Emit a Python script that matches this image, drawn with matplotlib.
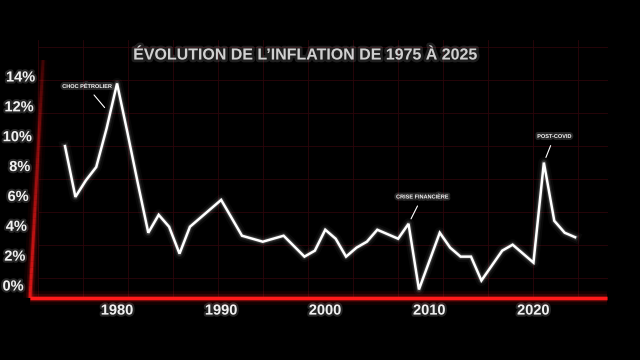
import numpy as np
import matplotlib.pyplot as plt
import matplotlib.patheffects as pe
from matplotlib.collections import LineCollection

# yearly inflation (%)
years = list(range(1975, 2025))
inflation = [9.3, 5.9, 7.0, 7.9, 10.5, 13.5, 10.2, 6.8, 3.5, 4.7,
             3.9, 2.1, 3.9, 4.5, 5.1, 5.7, 4.5, 3.3, 3.1, 2.9,
             3.1, 3.3, 2.6, 1.9, 2.3, 3.7, 3.1, 1.9, 2.5, 2.9,
             3.7, 3.4, 3.1, 4.1, -0.3, 1.6, 3.5, 2.5, 1.9, 1.9,
             0.3, 1.3, 2.3, 2.7, 2.1, 1.5, 8.2, 4.3, 3.5, 3.2]
x_ticks = [1980, 1990, 2000, 2010, 2020]
y_ticks = [0, 2, 4, 6, 8, 10, 12, 14]
# label, point the leader goes to, label position
notes = [("CHOC PÉTROLIER", (1979.15, 11.6), (1977.1, 13.3)),
         ("CRISE FINANCIÈRE", (2008.0, 4.1), (2009.3, 5.9)),
         ("POST-COVID", (2021.0, 8.2), (2022.0, 9.95))]

W, H = 640, 360
fig = plt.figure(figsize=(6.4, 3.6), dpi=100, facecolor='black')

# faint red background grid
bg = fig.add_axes([38 / W, (360 - 298) / H, 570 / W, (298 - 40) / H])
bg.set_facecolor('black')
bg.set_xlim(0, 570)
bg.set_ylim(0, 258)
for gx in range(0, 570, 45):
    bg.axvline(gx, color='#2c050a', lw=0.6)
for gy in range(20, 258, 33):
    bg.axhline(gy, color='#2c050a', lw=0.6)
bg.axis('off')

ax = fig.add_axes([40 / W, (360 - 298) / H, 567 / W, 238 / H])
ax.set_facecolor('none')
ax.set_xlim(1975 + (40 - 65) / 10.41, 1975 + (607 - 65) / 10.41)
ax.set_ylim(-13 / 14.93, 225 / 14.93)
for s in ax.spines.values():
    s.set_visible(False)

glow = [pe.withStroke(linewidth=3, foreground='white', alpha=0.15)]

# white line with glow
for lw, a in [(8, 0.035), (5, 0.07), (3.2, 0.15)]:
    ax.plot(years, inflation, color='white', lw=lw, alpha=a, solid_joinstyle='round')
ax.plot(years, inflation, color='white', lw=1.8, solid_joinstyle='miter')

# red axes with glow
xs = np.array([-0.0176, 1.0])
for lw, a in [(10, 0.07), (6, 0.15), (3.5, 0.35), (2.2, 1.0)]:
    ax.plot(xs, [0, 0], color='#ff1a1a', lw=lw, alpha=a, transform=ax.transAxes,
            clip_on=False, solid_capstyle='butt')
t = np.linspace(0, 1, 40)
lx = -0.0176 + t * 0.023
pts = np.column_stack([lx, t]).reshape(-1, 1, 2)
segs = np.concatenate([pts[:-1], pts[1:]], axis=1)
fade = 1 - 0.8 * t[:-1]
for lw, a in [(10, 0.07), (6, 0.14), (3.5, 0.3), (2, 0.75)]:
    cols = np.zeros((len(segs), 4))
    cols[:, 0] = 1.0
    cols[:, 1] = 0.1
    cols[:, 2] = 0.1
    cols[:, 3] = a * fade
    lc = LineCollection(segs, colors=cols, linewidths=lw, transform=ax.transAxes, clip_on=False)
    ax.add_collection(lc)

ax.set_xticks(x_ticks)
ax.set_xticklabels([str(v) for v in x_ticks], fontfamily='Liberation Sans',
                   fontweight='bold', fontsize=10.5, color='#f0f0f0')
ax.set_yticks(y_ticks)
ax.set_yticklabels([f"{v}%" for v in y_ticks], fontfamily='Liberation Sans',
                   fontweight='bold', fontsize=10.5, color='#f0f0f0')
ax.tick_params(length=0)
ax.tick_params(axis='y', pad=5)
ax.tick_params(axis='x', pad=4)
y0, y1 = ax.get_ylim()
for v, lab in zip(y_ticks, ax.get_yticklabels()):
    frac = (v - y0) / (y1 - y0)
    lab.set_x(-0.0176 + 0.023 * frac)
for lab in ax.get_xticklabels() + ax.get_yticklabels():
    lab.set_path_effects(glow)

for label, xy, xytext in notes:
    ax.annotate(label, xy=xy, xytext=xytext, ha='center', va='center',
                fontsize=4, fontweight='bold', fontfamily='Liberation Sans', color='#eeeeee',
                path_effects=glow,
                arrowprops=dict(arrowstyle='-', color='white', lw=0.8, shrinkA=3, shrinkB=4))

fig.text(306 / W, 1 - 55 / H, "ÉVOLUTION DE L\u2019INFLATION DE 1975 À 2025", ha='center', va='center',
         fontsize=11.5, fontweight='bold', fontfamily='Liberation Sans', color='#d0d0d0',
         path_effects=[pe.withStroke(linewidth=4, foreground='white', alpha=0.12)])

fig.savefig('out.png', dpi=100, facecolor='black')
